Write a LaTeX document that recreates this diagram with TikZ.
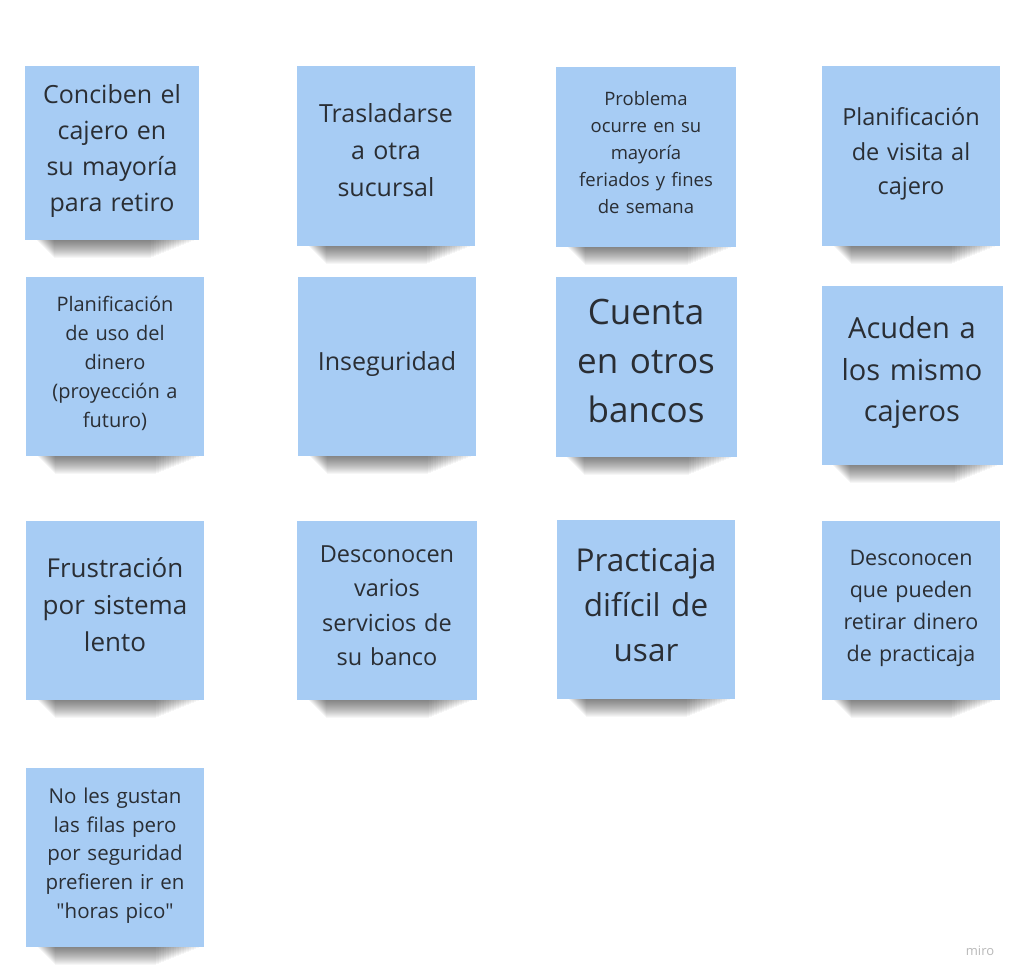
\documentclass[tikz,border=0pt]{standalone}
\usepackage{fontspec}
\setmainfont{Open Sans}[Ligatures=TeXOff]
\usepackage{xcolor}
\usetikzlibrary{positioning,backgrounds}
\definecolor{sticky}{RGB}{167,204,244}
\definecolor{inkgray}{RGB}{42,46,52}

\begin{document}
\begin{tikzpicture}[
  x=1pt, y=-1pt,
  note/.style={fill=sticky,inner sep=0pt,minimum width=178pt,minimum height=179pt,
               text width=166pt,align=center,text=inkgray},
  fs/.style 2 args={font=\fontsize{#1}{#2}\selectfont},
  lift/.style={execute at end node={\endgraf\kern#1pt}},
  shd/.style={fill=black,opacity=0.037}
]
\useasboundingbox (0,0) rectangle (1020,979);
% row 1
\node[note,fs={25}{36},lift=4,minimum width=174pt,minimum height=173pt] (cajero) at (112,153)
  {Conciben el\\cajero en\\su mayoría\\para retiro};
\node[note,fs={25}{37},lift=11] (traslado) at (386,156)
  {Trasladarse\\a otra\\sucursal};
\node[note,fs={18.5}{27},lift=8,minimum width=180pt] (feriados) at (646,157)
  {Problema\\ocurre en su\\mayoría\\feriados y fines\\de semana};
\node[note,fs={23.5}{34.5},lift=4] (visita) at (911,156)
  {Planificación\\de visita al\\cajero};
% row 2
\node[note,fs={20}{29},lift=6] (dinero) at (115,366)
  {Planificación\\de uso del\\dinero\\(proyección a\\futuro)};
\node[note,fs={25}{36},lift=4] (insegura) at (387,366)
  {Inseguridad};
\node[note,fs={35}{49},lift=12,minimum width=181pt,minimum height=180pt] (cuenta) at (646,367)
  {Cuenta\\en otros\\bancos};
\node[note,fs={29}{41.5},lift=5,minimum width=181pt] (acuden) at (912,375)
  {Acuden a\\los mismo\\cajeros};
% row 3
\node[note,fs={26}{37},lift=10] (lento) at (115,610)
  {Frustración\\por sistema\\lento};
\node[note,fs={23.5}{34.5},lift=9,minimum width=180pt] (servicios) at (387,610)
  {Desconocen\\varios\\servicios de\\su banco};
\node[note,fs={31.5}{45},lift=8] (practicaja) at (646,609)
  {Practicaja\\difícil de\\usar};
\node[note,fs={21.5}{32},lift=3] (retirar) at (911,610)
  {Desconocen\\que pueden\\retirar dinero\\de practicaja};
% row 4
\node[note,fs={20.5}{28.7},lift=3] (filas) at (115,857)
  {No les gustan\\las filas pero\\por seguridad\\prefieren ir en\\"horas pico"};

% soft shadows under the notes: stacked faint strips
\begin{scope}[on background layer]
\foreach \n in {cajero,traslado,feriados,visita,dinero,insegura,cuenta,acuden,
                lento,servicios,practicaja,retirar,filas}
  \foreach \i in {1,...,18}
    { \fill[shd] ([xshift=11+\i,yshift=2]\n.south west)
        rectangle ([xshift=-3-2.5*\i,yshift=-\i]\n.south east); }
\end{scope}

\node[fs={13}{15},text=black!28] (brand) at (980,951) {miro};
\end{tikzpicture}
\end{document}
